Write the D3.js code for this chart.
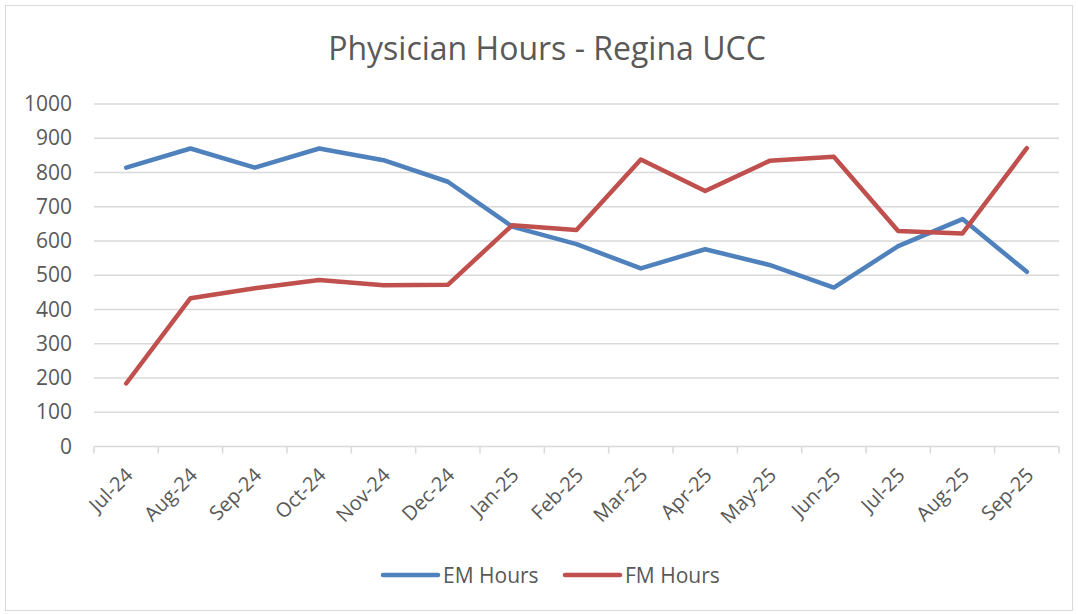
<!DOCTYPE html>
<html>
<head>
<meta charset="utf-8">
<script src="https://cdn.jsdelivr.net/npm/d3@7"></script>
<style>
  body { margin: 0; background: #fff; }
  text { font-family: "Open Sans", sans-serif; fill: #595959; }
</style>
</head>
<body>
<div id="chart"></div>
<script>
// Physician Hours - Regina UCC, monthly line chart

const months = ['Jul-24', 'Aug-24', 'Sep-24', 'Oct-24', 'Nov-24', 'Dec-24', 'Jan-25',
    'Feb-25', 'Mar-25', 'Apr-25', 'May-25', 'Jun-25', 'Jul-25', 'Aug-25', 'Sep-25'];
const emHours = [814, 870, 814, 870, 836, 773, 642, 591, 520, 576, 530, 464, 585, 664, 510];
const fmHours = [184, 433, 462, 486, 471, 472, 646, 632, 838, 746, 834, 846, 629, 622, 871];
const yTicks = [0, 100, 200, 300, 400, 500, 600, 700, 800, 900, 1000];

const width = 1078, height = 614;
const margin = { top: 104, right: 19, bottom: 167.5, left: 94 };

const svg = d3.select('#chart')
    .append('svg')
    .attr('width', width)
    .attr('height', height);

// Outer chart border
svg.append('rect')
    .attr('x', 5.5).attr('y', 5.5)
    .attr('width', 1067).attr('height', 605)
    .attr('fill', 'none')
    .attr('stroke', '#d9d9d9');

const x = d3.scaleBand()
    .domain(months)
    .range([margin.left, width - margin.right]);

const y = d3.scaleLinear()
    .domain([0, 1000])
    .range([height - margin.bottom, margin.top]);

// Gridlines
svg.append('g')
    .selectAll('line')
    .data(yTicks.filter(d => d > 0))
    .enter().append('line')
    .attr('x1', margin.left)
    .attr('x2', width - margin.right)
    .attr('y1', d => y(d))
    .attr('y2', d => y(d))
    .attr('stroke', '#d9d9d9')
    .attr('stroke-width', 1.5);

// Y axis labels
const yAxis = svg.append('g')
    .attr('transform', `translate(${margin.left},0)`)
    .call(d3.axisLeft(y).tickValues(yTicks).tickFormat(d3.format('d')).tickSize(0).tickPadding(22));
yAxis.select('.domain').remove();
yAxis.selectAll('text')
    .attr('font-size', '21px')
    .attr('font-family', '"Open Sans", sans-serif')
    .attr('fill', '#595959');

// X axis with tick marks between categories
const xAxisG = svg.append('g')
    .attr('transform', `translate(0,${y(0)})`);
xAxisG.append('line')
    .attr('x1', margin.left).attr('x2', width - margin.right)
    .attr('stroke', '#d9d9d9').attr('stroke-width', 1.5);
const bounds = months.map(m => x(m)).concat([x.range()[1]]);
xAxisG.selectAll('line.tick')
    .data(bounds)
    .enter().append('line')
    .attr('class', 'tick')
    .attr('x1', d => d).attr('x2', d => d)
    .attr('y1', 0).attr('y2', 7)
    .attr('stroke', '#d9d9d9').attr('stroke-width', 1.5);
xAxisG.selectAll('text')
    .data(months)
    .enter().append('text')
    .attr('transform', d => `translate(${x(d) + x.bandwidth() / 2 + 8},${30}) rotate(-45)`)
    .attr('text-anchor', 'end')
    .attr('font-size', '20px')
    .text(d => d);

// Lines
const line = d3.line()
    .x((d, i) => x(months[i]) + x.bandwidth() / 2)
    .y(d => y(d));

const series = [
    { name: 'EM Hours', values: emHours, color: '#4f81bd' },
    { name: 'FM Hours', values: fmHours, color: '#c0504d' }
];

svg.append('g')
    .selectAll('path')
    .data(series)
    .enter().append('path')
    .attr('d', d => line(d.values))
    .attr('fill', 'none')
    .attr('stroke', d => d.color)
    .attr('stroke-width', 4.5)
    .attr('stroke-linejoin', 'round')
    .attr('stroke-linecap', 'round');

// Title
svg.append('text')
    .attr('x', 547)
    .attr('y', 60)
    .attr('text-anchor', 'middle')
    .attr('font-size', '32px')
    .text('Physician Hours - Regina UCC');

// Legend
const legendX = [383, 565];
const legend = svg.append('g')
    .selectAll('g')
    .data(series)
    .enter().append('g')
    .attr('transform', (d, i) => `translate(${legendX[i]},575)`);
legend.append('line')
    .attr('x1', 0).attr('x2', 55)
    .attr('stroke', d => d.color)
    .attr('stroke-width', 4.5)
    .attr('stroke-linecap', 'round');
legend.append('text')
    .attr('x', 60)
    .attr('y', 7.5)
    .attr('font-size', '21px')
    .text(d => d.name);
</script>
</body>
</html>
